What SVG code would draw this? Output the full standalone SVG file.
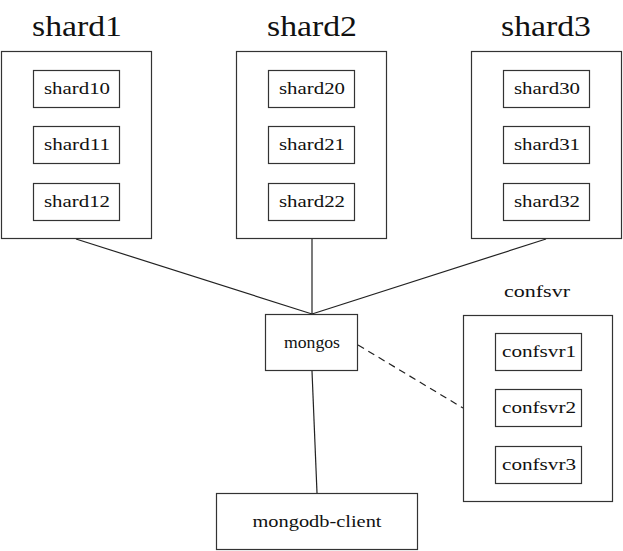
<svg xmlns="http://www.w3.org/2000/svg" width="623" height="551" viewBox="0 0 623 551" font-family="'Liberation Serif', 'DejaVu Serif', serif">
<style>
rect{fill:#fff;stroke:#333;stroke-width:1.2}
text{font-family:'Liberation Serif','DejaVu Serif',serif;fill:#111;text-anchor:middle}
.t{font-size:30px}
.n{font-size:16px}
.c{stroke:#222;stroke-width:1.2;fill:none}
.d{stroke-dasharray:7 5}
</style>
<rect x="0" y="0" width="623" height="551" style="stroke:none"/>
<g id="connectors">
<line class="c" x1="76" y1="239" x2="312" y2="314"/>
<line class="c" x1="312" y1="239" x2="312" y2="314"/>
<line class="c" x1="546" y1="239" x2="312" y2="314"/>
<line class="c" x1="312" y1="371" x2="317" y2="493"/>
<line class="c d" x1="358" y1="345" x2="463" y2="408"/>
</g>
<g id="shard1">
<text class="t" x="77" y="36" textLength="90" lengthAdjust="spacingAndGlyphs">shard1</text>
<rect x="1.5" y="51.5" width="150" height="187"/>
<g id="shard10"><rect x="33.5" y="70.5" width="86" height="37"/><text class="n" x="77" y="94" textLength="66" lengthAdjust="spacingAndGlyphs">shard10</text></g>
<g id="shard11"><rect x="33.5" y="126.5" width="86" height="37"/><text class="n" x="77" y="150" textLength="66" lengthAdjust="spacingAndGlyphs">shard11</text></g>
<g id="shard12"><rect x="33.5" y="183.5" width="86" height="37"/><text class="n" x="77" y="207" textLength="66" lengthAdjust="spacingAndGlyphs">shard12</text></g>
</g>
<g id="shard2">
<text class="t" x="312" y="36" textLength="90" lengthAdjust="spacingAndGlyphs">shard2</text>
<rect x="236.5" y="51.5" width="150" height="187"/>
<g id="shard20"><rect x="268.5" y="70.5" width="86" height="37"/><text class="n" x="312" y="94" textLength="66" lengthAdjust="spacingAndGlyphs">shard20</text></g>
<g id="shard21"><rect x="268.5" y="126.5" width="86" height="37"/><text class="n" x="312" y="150" textLength="66" lengthAdjust="spacingAndGlyphs">shard21</text></g>
<g id="shard22"><rect x="268.5" y="183.5" width="86" height="37"/><text class="n" x="312" y="207" textLength="66" lengthAdjust="spacingAndGlyphs">shard22</text></g>
</g>
<g id="shard3">
<text class="t" x="546" y="36" textLength="90" lengthAdjust="spacingAndGlyphs">shard3</text>
<rect x="471.5" y="51.5" width="150" height="187"/>
<g id="shard30"><rect x="503.5" y="70.5" width="86" height="37"/><text class="n" x="547" y="94" textLength="66" lengthAdjust="spacingAndGlyphs">shard30</text></g>
<g id="shard31"><rect x="503.5" y="126.5" width="86" height="37"/><text class="n" x="547" y="150" textLength="66" lengthAdjust="spacingAndGlyphs">shard31</text></g>
<g id="shard32"><rect x="503.5" y="183.5" width="86" height="37"/><text class="n" x="547" y="207" textLength="66" lengthAdjust="spacingAndGlyphs">shard32</text></g>
</g>
<g id="mongos">
<rect x="265.5" y="314.5" width="92" height="56"/>
<text class="n" x="312" y="348" textLength="56" lengthAdjust="spacingAndGlyphs">mongos</text>
</g>
<g id="confsvr">
<text class="n" x="537" y="297" textLength="66" lengthAdjust="spacingAndGlyphs">confsvr</text>
<rect x="463.5" y="315.5" width="149" height="186"/>
<g id="confsvr1"><rect x="495.5" y="333.5" width="86" height="37"/><text class="n" x="539" y="357" textLength="74" lengthAdjust="spacingAndGlyphs">confsvr1</text></g>
<g id="confsvr2"><rect x="495.5" y="389.5" width="86" height="37"/><text class="n" x="539" y="413" textLength="74" lengthAdjust="spacingAndGlyphs">confsvr2</text></g>
<g id="confsvr3"><rect x="495.5" y="446.5" width="86" height="37"/><text class="n" x="539" y="470" textLength="74" lengthAdjust="spacingAndGlyphs">confsvr3</text></g>
</g>
<g id="mongodb-client">
<rect x="216.5" y="493.5" width="201" height="56"/>
<text class="n" x="317" y="527" textLength="129" lengthAdjust="spacingAndGlyphs">mongodb-client</text>
</g>
</svg>
